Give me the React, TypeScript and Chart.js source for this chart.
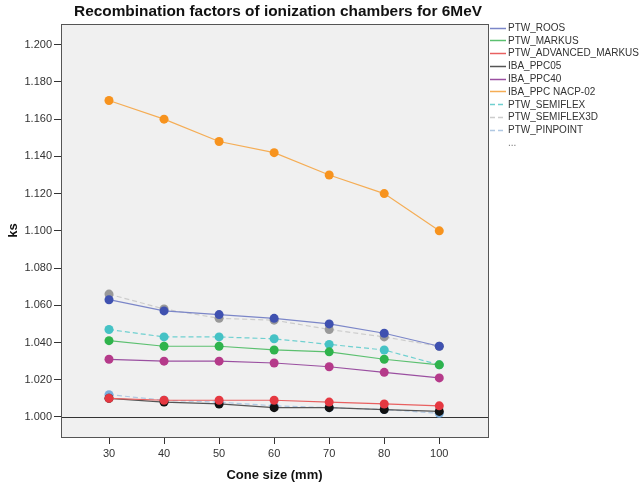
import React, { useEffect, useRef } from "react";
import { Chart, registerables } from "chart.js";
Chart.register(...registerables);

const coneSizes = ["30", "40", "50", "60", "70", "80", "100"];
const ptwRoos = [1.063, 1.057, 1.055, 1.053, 1.05, 1.045, 1.038];
const ptwMarkus = [1.041, 1.038, 1.038, 1.036, 1.035, 1.031, 1.028];
const ptwAdvancedMarkus = [1.01, 1.009, 1.009, 1.009, 1.008, 1.007, 1.006];
const ibaPpc05 = [1.01, 1.008, 1.007, 1.005, 1.005, 1.004, 1.003];
const ibaPpc40 = [1.031, 1.03, 1.03, 1.029, 1.027, 1.024, 1.021];
const ibaNacp02 = [1.17, 1.16, 1.148, 1.142, 1.13, 1.12, 1.1];
const ptwSemiflex = [1.047, 1.043, 1.043, 1.042, 1.039, 1.036, 1.028];
const ptwSemiflex3d = [1.066, 1.058, 1.053, 1.052, 1.047, 1.043, 1.038];
const ptwPinpoint = [1.012, 1.009, 1.008, 1.006, 1.005, 1.004, 1.002];
const yTickValues = [1.0, 1.02, 1.04, 1.06, 1.08, 1.1, 1.12, 1.14, 1.16, 1.18, 1.2];

const seriesDefs = [
  { label: "PTW_ROOS", data: ptwRoos, line: "#7b86c8", point: "#3f51b0", dash: [] as number[] },
  { label: "PTW_MARKUS", data: ptwMarkus, line: "#5cc070", point: "#2fb34c", dash: [] },
  { label: "PTW_ADVANCED_MARKUS", data: ptwAdvancedMarkus, line: "#e86060", point: "#e53841", dash: [] },
  { label: "IBA_PPC05", data: ibaPpc05, line: "#555555", point: "#111111", dash: [] },
  { label: "IBA_PPC40", data: ibaPpc40, line: "#9a4fa0", point: "#b53a8a", dash: [] },
  { label: "IBA_PPC NACP-02", data: ibaNacp02, line: "#f5ad55", point: "#f7931e", dash: [] },
  { label: "PTW_SEMIFLEX", data: ptwSemiflex, line: "#6fd0d0", point: "#45c2c5", dash: [5, 3] },
  { label: "PTW_SEMIFLEX3D", data: ptwSemiflex3d, line: "#cccccc", point: "#999999", dash: [5, 3] },
  { label: "PTW_PINPOINT", data: ptwPinpoint, line: "#b0c8e2", point: "#7aaedc", dash: [5, 3] },
];

const FONT = "'Liberation Sans', Arial, sans-serif";

const decor = {
  id: "decor",
  beforeDraw(chart: any) {
    const { ctx, chartArea: a } = chart;
    ctx.save();
    ctx.fillStyle = "#ffffff";
    ctx.fillRect(0, 0, chart.width, chart.height);
    ctx.fillStyle = "#f0f0f0";
    ctx.fillRect(a.left, a.top, a.right - a.left, a.bottom - a.top);
    ctx.restore();
  },
  beforeDatasetsDraw(chart: any) {
    const { ctx, chartArea: a, scales } = chart;
    const y1 = Math.round(scales.y.getPixelForValue(1.0)) + 0.5;
    ctx.save();
    ctx.strokeStyle = "#333333";
    ctx.lineWidth = 1;
    ctx.beginPath();
    ctx.moveTo(a.left, y1);
    ctx.lineTo(a.right, y1);
    ctx.stroke();
    ctx.restore();
  },
  afterDraw(chart: any) {
    const { ctx, chartArea: a } = chart;
    ctx.save();
    ctx.strokeStyle = "#555555";
    ctx.lineWidth = 1;
    ctx.strokeRect(Math.round(a.left) + 0.5, Math.round(a.top) + 0.5, Math.round(a.right - a.left), Math.round(a.bottom - a.top));
    // title
    ctx.fillStyle = "#111111";
    ctx.font = `bold 15.4px ${FONT}`;
    ctx.textAlign = "center";
    ctx.textBaseline = "middle";
    ctx.fillText("Recombination factors of ionization chambers for 6MeV", 278, 12);
    // x title
    ctx.font = `bold 13px ${FONT}`;
    ctx.fillText("Cone size (mm)", (a.left + a.right) / 2, 475);
    // y title
    ctx.save();
    ctx.translate(13, (a.top + a.bottom) / 2);
    ctx.rotate(-Math.PI / 2);
    ctx.fillText("ks", 0, 0);
    ctx.restore();
    // legend
    ctx.font = `10px ${FONT}`;
    ctx.textAlign = "left";
    const x0 = 490;
    let y = 27.5;
    seriesDefs.forEach((s) => {
      ctx.strokeStyle = s.line;
      ctx.lineWidth = 1.5;
      ctx.setLineDash(s.dash.length ? [5, 3] : []);
      ctx.beginPath();
      ctx.moveTo(x0, Math.round(y) + 0.5);
      ctx.lineTo(x0 + 16, Math.round(y) + 0.5);
      ctx.stroke();
      ctx.setLineDash([]);
      ctx.fillStyle = "#333333";
      ctx.fillText(s.label, x0 + 18, y + 0.5);
      y += 12.8;
    });
    ctx.fillStyle = "#777777";
    ctx.fillText("...", x0 + 18, y + 1);
    ctx.restore();
  },
};

export default function App() {
  const ref = useRef<HTMLCanvasElement>(null);
  useEffect(() => {
    if (!ref.current) return;
    const chart = new Chart(ref.current, {
      type: "line",
      data: {
        datasets: seriesDefs.map((s) => ({
          label: s.label,
          data: s.data.map((v, i) => ({ x: i, y: v })),
          borderColor: s.line,
          backgroundColor: s.point,
          pointBackgroundColor: s.point,
          pointBorderColor: s.point,
          pointBorderWidth: 0,
          pointRadius: 4.5,
          borderWidth: 1.2,
          borderDash: s.dash,
          tension: 0,
          fill: false,
        })),
      },
      options: {
        responsive: false,
        animation: false,
        events: [],
        layout: { padding: { top: 24, right: 153, left: 0, bottom: 0 } },
        plugins: { legend: { display: false }, title: { display: false }, tooltip: { enabled: false } },
        scales: {
          x: {
            type: "linear",
            min: -0.872,
            max: 6.885,
            afterFit: (s: any) => { s.height = 47; },
            afterBuildTicks: (s: any) => { s.ticks = coneSizes.map((_, i) => ({ value: i })); },
            ticks: {
              callback: (v: any) => coneSizes[v as number] ?? "",
              font: { family: FONT, size: 11 },
              color: "#333333",
              padding: 3,
              maxRotation: 0,
              autoSkip: false,
            },
            grid: { drawOnChartArea: false, drawTicks: true, tickLength: 7, color: "#333333" },
            border: { display: true, color: "#555555" },
          },
          y: {
            type: "linear",
            min: 0.98925,
            max: 1.2111,
            afterFit: (s: any) => { s.width = 61; },
            afterBuildTicks: (s: any) => { s.ticks = yTickValues.map((v) => ({ value: v })); },
            ticks: {
              callback: (v: any) => Number(v).toFixed(3),
              font: { family: FONT, size: 11 },
              color: "#333333",
              padding: 2,
            },
            grid: { drawOnChartArea: false, drawTicks: true, tickLength: 7, color: "#333333" },
            border: { display: true, color: "#555555" },
          },
        },
      },
      plugins: [decor],
    });
    return () => chart.destroy();
  }, []);
  return (
    <div style={{ position: "absolute", left: 0, top: 0, width: 641, height: 484 }}>
      <canvas ref={ref} width={641} height={484} style={{ width: 641, height: 484 }} />
    </div>
  );
}
